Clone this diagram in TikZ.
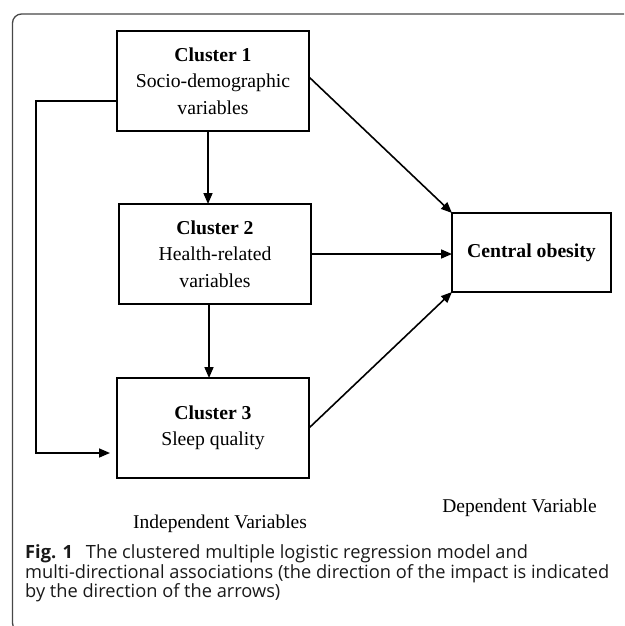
\documentclass[tikz,border=0pt]{standalone}
\usepackage{fontspec}
\setmainfont{Liberation Serif}
\newfontfamily\capfont{Open Sans}
\usetikzlibrary{arrows.meta}
\newlength\capw
\settowidth\capw{\capfont\fontsize{10}{12}\selectfont multi-directional associations (the direction of the impact is indicated}
\pgfmathsetmacro\capsize{10*590/\capw*0.99}
\begin{document}
\begin{tikzpicture}[x=1pt,y=-1pt,
  box/.style={draw, line width=1.8pt, minimum width=192pt, minimum height=100pt,
    inner sep=0pt, outer sep=0pt, align=center,
    font=\fontsize{19.7}{26.5}\selectfont},
  conn/.style={line width=1.6pt, -{Triangle[length=11pt,width=9pt]}},
  lbl/.style={inner sep=0pt, font=\fontsize{19.5}{24}\selectfont},
  captext/.style={inner sep=0pt, anchor=base west, text=black!90,
    font=\capfont\fontsize{\capsize}{19.5}\selectfont}]
\useasboundingbox (0,0) rectangle (624,626);
\begin{scope}
  \clip (0,0) rectangle (624,626);
  \draw[line width=1.3pt, black!72, rounded corners=9pt] (12.5,14) rectangle (700,632);
\end{scope}
\node[box] (c1) at (213,81) {\textbf{Cluster 1}\\Socio-demographic\\variables};
\node[box] (c2) at (215,254) {\textbf{Cluster 2}\\Health-related\\variables};
\node[box] (c3) at (213,428) {\textbf{Cluster 3}\\Sleep quality};
\node[box, minimum width=159pt, minimum height=79pt] (co) at (531.5,252.5) {\textbf{Central obesity}};
\coordinate (lt) at (36,101);
\coordinate (lb) at (36,453);
\draw[conn] ([xshift=-5pt]c1.south) -- ([xshift=-5pt]c1.south |- c2.north);
\draw[conn] ([xshift=-6pt]c2.south) -- ([xshift=-6pt]c2.south |- c3.north);
\draw[conn] (c2.east) -- (c2.east -| co.west);
\draw[conn] ([yshift=4pt]c1.east) -- (co.north west);
\draw[conn] (c3.east) -- (co.south west);
\draw[conn, shorten >=7pt] ([yshift=-20pt]c1.west) -- (lt) -- (lb) -- ([yshift=-25pt]c3.west);
\node[lbl] (iv) at (220,524) {Independent Variables};
\node[lbl] (dv) at (519.5,508) {Dependent Variable};
\node[captext] (cap1) at (25,558.5) {\textbf{Fig. 1}\hspace{13pt}The clustered multiple logistic regression model and};
\node[captext] (cap2) at (25,578) {multi-directional associations (the direction of the impact is indicated};
\node[captext] (cap3) at (25,597.5) {by the direction of the arrows)};
\end{tikzpicture}
\end{document}
